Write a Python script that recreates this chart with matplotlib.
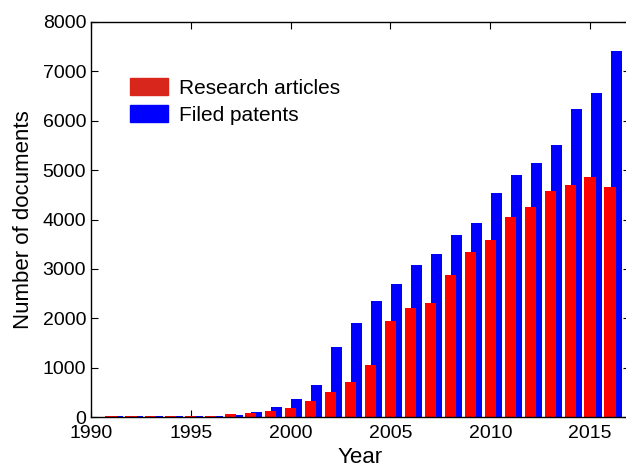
import numpy as np
import matplotlib
matplotlib.use('Agg')
import matplotlib.pyplot as plt
from matplotlib.patches import Patch

plt.rcParams['font.family'] = ['Liberation Sans', 'DejaVu Sans']

# data
years = np.arange(1991, 2017)
articles = [20, 20, 22, 22, 25, 30, 54, 87, 128, 176,
            330, 512, 714, 1058, 1948, 2211, 2300, 2873, 3338, 3587,
            4046, 4248, 4572, 4707, 4855, 4653]
patents = [20, 20, 24, 24, 22, 30, 40, 95, 202, 358,
           647, 1410, 1895, 2347, 2690, 3069, 3311, 3688, 3939, 4545,
           4905, 5142, 5503, 6245, 6555, 7405]
xticks = [1990, 1995, 2000, 2005, 2010, 2015]
yticks = [0, 1000, 2000, 3000, 4000, 5000, 6000, 7000, 8000]

fig = plt.figure(figsize=(6.26, 4.70), dpi=100)
ax = fig.add_axes([91/626, 53/470, 539/626, 395/470])

ax.bar(years + 0.31, patents, width=0.56, color='#0000ff', zorder=1)
ax.bar(years, articles, width=0.56, color='#ff0000', zorder=2)

ax.set_xlim(1990, 2017)
ax.set_ylim(0, 8000)
ax.set_xticks(xticks)
ax.set_yticks(yticks)
ax.tick_params(direction='in', length=5, width=0.8, labelsize=14,
               top=True, right=True)
ax.tick_params(axis='x', pad=5.5)
ax.tick_params(axis='y', pad=3.5)
for s in ax.spines.values():
    s.set_linewidth(1.0)

ax.set_xlabel('Year', fontsize=16, labelpad=4)
ax.set_ylabel('Number of documents', fontsize=16, labelpad=6)

hands = [Patch(color='#d9261c'), Patch(color='#0000ff')]
fig.legend(hands, ['Research articles', 'Filed patents'],
           loc='upper left', bbox_to_anchor=(130/626, 1 - 78/470),
           frameon=False, fontsize=15, handlelength=1.83, handleheight=0.9,
           handletextpad=0.5, labelspacing=0.35, borderpad=0, borderaxespad=0)

fig.savefig('out.png', dpi=100)
